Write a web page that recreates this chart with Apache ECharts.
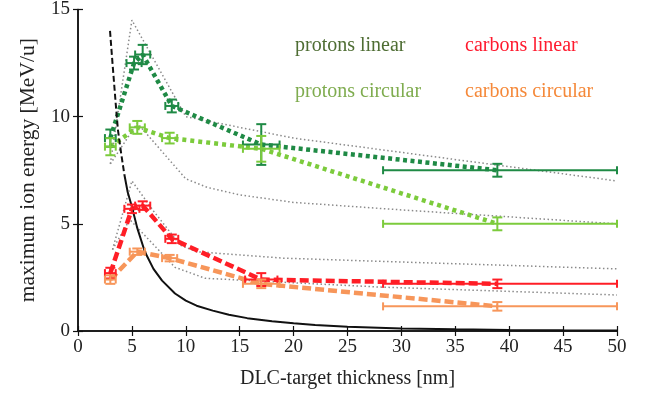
<!DOCTYPE html>
<html>
<head>
<meta charset="utf-8">
<script src="https://cdn.jsdelivr.net/npm/echarts@6/dist/echarts.min.js"></script>
<style>html,body{margin:0;padding:0;background:#fff}#c{width:657px;height:398px}</style>
</head>
<body>
<div id="c"></div>
<script>
// ---- data ----
const xName = 'DLC-target thickness [nm]';
const yName = 'maximum ion energy [MeV/u]';
const legendLabels = ['protons linear', 'carbons linear', 'protons circular', 'carbons circular'];

// protons linear
const pLinX    = [3.0, 5.2, 6.0, 8.7, 17.0, 38.9];
const pLinY    = [9.0, 12.5, 12.9, 10.5, 8.7, 7.5];
const pLinXLo  = [2.5, 4.5, 5.3, 8.1, 15.3, 28.3];
const pLinXHi  = [3.5, 5.9, 6.7, 9.3, 18.7, 50.0];
const pLinYErr = [0.4, 0.3, 0.45, 0.3, 0.95, 0.3];

// protons circular
const pCirX    = [3.0, 5.5, 8.5, 17.0, 38.9];
const pCirY    = [8.6, 9.5, 9.0, 8.5, 5.0];
const pCirXLo  = [2.5, 4.8, 7.8, 15.3, 28.3];
const pCirXHi  = [3.5, 6.2, 9.2, 18.7, 50.0];
const pCirYErr = [0.4, 0.3, 0.25, 0.6, 0.3];

// carbons linear
const cLinX    = [3.0, 5.0, 6.0, 8.7, 17.0, 38.9];
const cLinY    = [2.7, 5.7, 5.85, 4.3, 2.4, 2.2];
const cLinXLo  = [2.5, 4.3, 5.3, 8.1, 15.5, 28.3];
const cLinXHi  = [3.5, 5.7, 6.7, 9.3, 18.5, 50.0];
const cLinYErr = [0.25, 0.2, 0.2, 0.2, 0.3, 0.2];

// carbons circular
const cCirX    = [3.0, 5.5, 8.5, 17.0, 38.9];
const cCirY    = [2.4, 3.7, 3.4, 2.2, 1.15];
const cCirXLo  = [2.5, 4.8, 7.8, 15.3, 28.3];
const cCirXHi  = [3.5, 6.2, 9.2, 18.7, 50.0];
const cCirYErr = [0.2, 0.15, 0.15, 0.2, 0.2];

// gray dotted envelopes
const envPUpX = [3.0, 5.0, 10.0, 20.0, 50.0];
const envPUpY = [7.8, 14.5, 10.0, 9.0, 7.0];
const envPLoX = [3.0, 5.5, 10.0, 12.0, 15.0, 20.0, 30.0, 50.0];
const envPLoY = [7.8, 9.7, 7.1, 6.7, 6.35, 6.0, 5.65, 5.0];
const envCUpX = [3.2, 5.0, 7.0, 9.5, 11.0, 19.0, 28.0, 50.0];
const envCUpY = [3.8, 7.0, 5.6, 4.0, 3.7, 3.4, 3.25, 2.9];
const envCLoX = [3.2, 4.8, 9.0, 11.8, 18.8, 28.0, 50.0];
const envCLoY = [3.8, 5.2, 2.97, 2.46, 2.28, 2.05, 1.68];

// black curve (dashed upper part, solid lower part)
const kinDashX = [2.97, 3.2, 3.5, 3.7, 4.0, 4.3];
const kinDashY = [14.0, 12.5, 10.6, 9.4, 8.3, 7.3];
const kinSolX  = [4.3, 4.6, 5.0, 5.5, 6.2, 7.0, 7.8, 9.0, 10.0, 11.0, 12.5, 14.0, 15.7, 18.0, 20.0, 22.0, 25.0, 30.0, 35.0, 40.0, 45.0, 50.0];
const kinSolY  = [7.3, 6.5, 5.8, 4.8, 3.7, 2.9, 2.35, 1.75, 1.42, 1.18, 0.95, 0.76, 0.6, 0.46, 0.36, 0.28, 0.2, 0.12, 0.08, 0.05, 0.03, 0.02];

// ---- helpers ----
const zip = (xs, ys) => xs.map((x, i) => [x, ys[i]]);
const errRows = (xs, ys, xlo, xhi, ye) => xs.map((x, i) => [x, ys[i], xlo[i], xhi[i], ys[i] - ye[i], ys[i] + ye[i]]);

const FONT = '"Liberation Serif", "Times New Roman", serif';
const C_PLIN = '#1f8a45', C_PCIR = '#7ccb3c', C_CLIN = '#ff1e26', C_CCIR = '#f7965a';
const GRAY = '#8a8a8a';

function errSeries(rows, color) {
  return {
    type: 'custom', z: 5,
    renderItem: function (params, api) {
      const x = api.value(0), y = api.value(1);
      const pL = api.coord([api.value(2), y]);
      const pR = api.coord([api.value(3), y]);
      const pB = api.coord([x, api.value(4)]);
      const pT = api.coord([x, api.value(5)]);
      const cx = 4, cy = 5;
      const st = { stroke: color, lineWidth: 2, fill: null };
      const line = (x1, y1, x2, y2) => ({ type: 'line', shape: { x1, y1, x2, y2 }, style: st });
      return {
        type: 'group',
        children: [
          line(pL[0], pL[1], pR[0], pR[1]),
          line(pL[0], pL[1] - cx, pL[0], pL[1] + cx),
          line(pR[0], pR[1] - cx, pR[0], pR[1] + cx),
          line(pB[0], pB[1], pT[0], pT[1]),
          line(pB[0] - cy, pB[1], pB[0] + cy, pB[1]),
          line(pT[0] - cy, pT[1], pT[0] + cy, pT[1])
        ]
      };
    },
    encode: { x: [0, 2, 3], y: [1, 4, 5] },
    data: rows
  };
}

function lineSeries(xs, ys, color, width, dash, z) {
  return {
    type: 'line', data: zip(xs, ys), symbol: 'none', z: z || 2, silent: true,
    lineStyle: { color: color, width: width, type: dash, cap: 'butt' }
  };
}

const chart = echarts.init(document.getElementById('c'), null, { renderer: 'canvas' });

const axisLineStyle = { lineStyle: { color: '#111', width: 1.5 } };
const tickStyle = { inside: true, length: 5, lineStyle: { color: '#111', width: 1.2 } };

chart.setOption({
  animation: false,
  backgroundColor: '#fff',
  grid: { left: 78, right: 40, top: 6, bottom: 67 },
  xAxis: [
    {
      type: 'value', min: 0, max: 50, interval: 5, position: 'bottom',
      name: xName, nameLocation: 'middle', nameGap: 38,
      nameTextStyle: { fontFamily: FONT, fontSize: 20, color: '#222' },
      axisLine: axisLineStyle, axisTick: tickStyle, splitLine: { show: false },
      axisLabel: { fontFamily: FONT, fontSize: 19, color: '#222', margin: 7 }
    },
    {
      type: 'value', min: 0, max: 50, interval: 5, position: 'top',
      axisLine: axisLineStyle, axisTick: tickStyle, splitLine: { show: false },
      axisLabel: { show: false }
    }
  ],
  yAxis: [
    {
      type: 'value', min: 0, max: 15, interval: 5, position: 'left',
      name: yName, nameLocation: 'middle', nameGap: 39,
      nameTextStyle: { fontFamily: FONT, fontSize: 21.5, color: '#222' },
      axisLine: axisLineStyle, axisTick: tickStyle, splitLine: { show: false },
      axisLabel: { fontFamily: FONT, fontSize: 19, color: '#222', margin: 8 }
    },
    {
      type: 'value', min: 0, max: 15, interval: 5, position: 'right',
      axisLine: axisLineStyle, axisTick: tickStyle, splitLine: { show: false },
      axisLabel: { show: false }
    }
  ],
  graphic: [
    { type: 'text', left: 295, top: 36, style: { text: legendLabels[0], fill: '#4e6d33', font: '20px ' + FONT } },
    { type: 'text', left: 465, top: 36, style: { text: legendLabels[1], fill: '#ff1a2e', font: '20px ' + FONT } },
    { type: 'text', left: 295, top: 82, style: { text: legendLabels[2], fill: '#7fac4f', font: '20px ' + FONT } },
    { type: 'text', left: 465, top: 82, style: { text: legendLabels[3], fill: '#f5893a', font: '20px ' + FONT } }
  ],
  series: [
    lineSeries(envPUpX, envPUpY, GRAY, 1.5, [1.5, 2.5], 1),
    lineSeries(envPLoX, envPLoY, GRAY, 1.5, [1.5, 2.5], 1),
    lineSeries(envCUpX, envCUpY, GRAY, 1.5, [1.5, 2.5], 1),
    lineSeries(envCLoX, envCLoY, GRAY, 1.5, [1.5, 2.5], 1),
    lineSeries(kinDashX, kinDashY, '#111', 2, [6, 3], 3),
    lineSeries(kinSolX, kinSolY, '#111', 2, 'solid', 3),
    lineSeries(pLinX, pLinY, C_PLIN, 4.5, [4, 3.5], 2),
    lineSeries(pCirX, pCirY, C_PCIR, 4.5, [4, 4], 2),
    lineSeries(cLinX, cLinY, C_CLIN, 4.5, [9, 4], 2),
    lineSeries(cCirX, cCirY, C_CCIR, 4.5, [9, 4], 2),
    errSeries(errRows(pLinX, pLinY, pLinXLo, pLinXHi, pLinYErr), C_PLIN),
    errSeries(errRows(pCirX, pCirY, pCirXLo, pCirXHi, pCirYErr), C_PCIR),
    errSeries(errRows(cLinX, cLinY, cLinXLo, cLinXHi, cLinYErr), C_CLIN),
    errSeries(errRows(cCirX, cCirY, cCirXLo, cCirXHi, cCirYErr), C_CCIR)
  ]
});
</script>
</body>
</html>
